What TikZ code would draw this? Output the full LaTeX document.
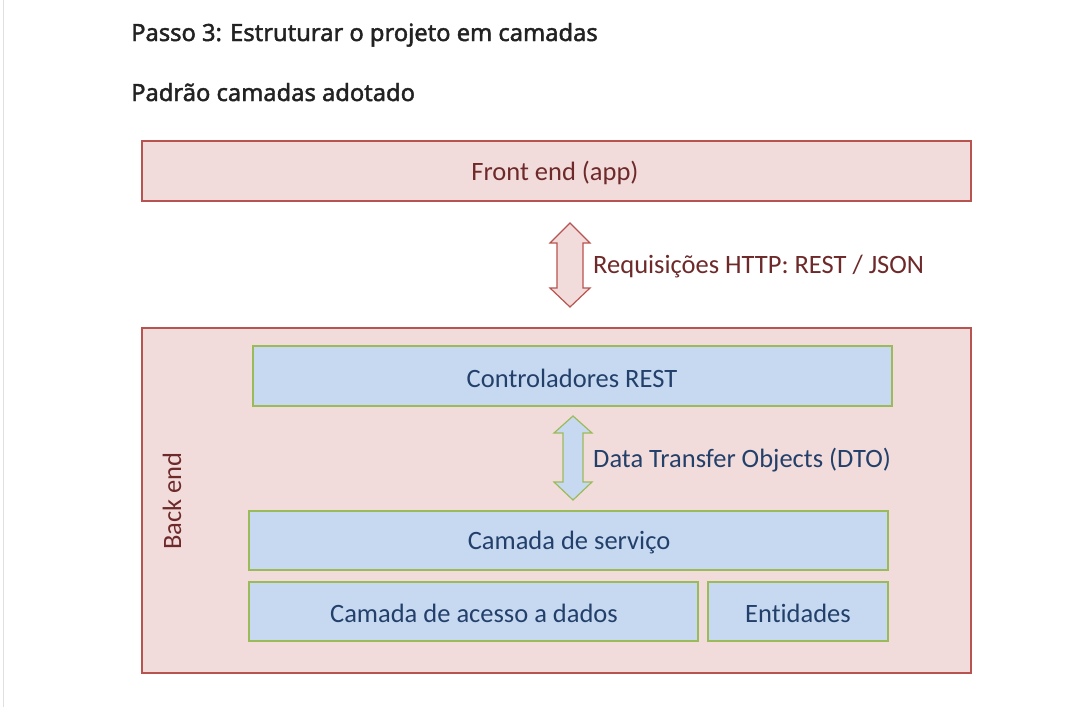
\documentclass[tikz,border=0pt]{standalone}
\usepackage{fontspec}
\setmainfont{Carlito}[Ligatures={NoCommon,NoRequired,NoContextual}]
\newfontfamily\titlefont{Noto Sans}[BoldFont={Noto Sans},BoldFeatures={FakeBold=1.8}]
\definecolor{pinkfill}{HTML}{F2DCDB}
\definecolor{pinkdraw}{HTML}{B85450}
\definecolor{bluefill}{HTML}{C6D9F1}
\definecolor{greendraw}{HTML}{9BBB59}
\definecolor{redtext}{HTML}{6E2A2A}
\definecolor{bluetext}{HTML}{23406B}
\definecolor{titletext}{HTML}{222222}
\begin{document}
\begin{tikzpicture}[x=1pt,y=-1pt,
  pinkbox/.style={draw=pinkdraw,fill=pinkfill,line width=1.2pt},
  bluebox/.style={draw=greendraw,fill=bluefill,line width=1.2pt},
  redlabel/.style={text=redtext,font=\fontsize{26.5}{30}\selectfont},
  bluelabel/.style={text=bluetext,font=\fontsize{26.5}{30}\selectfont},
  titlelabel/.style={text=titletext,font=\titlefont\bfseries\fontsize{23.7}{27}\selectfont,anchor=base west,inner sep=0pt},
  pinkarrow/.style={draw=pinkdraw,fill=pinkfill,line width=1.2pt,line join=miter},
  bluearrow/.style={draw=greendraw,fill=bluefill,line width=1.2pt,line join=miter}]
\useasboundingbox (0,0) rectangle (1092,707);
\fill[white] (0,0) rectangle (1092,707);
\draw[black!12,line width=1pt] (3,0) -- (3,707);
% titles
\node[titlelabel] (t1) at (131,41) {Passo 3: Estruturar o projeto em camadas};
\node[titlelabel] (t2) at (131,101) {Padrão camadas adotado};
% front end
\draw[pinkbox] (142,141) rectangle (971,201);
\node[redlabel] (front) at (555,173) {Front end (app)};
% back end
\draw[pinkbox] (142,328) rectangle (971,673);
\node[redlabel,rotate=90] (back) at (172,501) {Back end};
% blue boxes
\draw[bluebox] (253,346) rectangle (892,406);
\node[bluelabel] (ctrl) at (572,378) {Controladores REST};
\draw[bluebox] (249,511) rectangle (888,570);
\node[bluelabel] (serv) at (569,543) {Camada de serviço};
\draw[bluebox] (249,582) rectangle (698,641);
\node[bluelabel] (dados) at (474,613) {Camada de acesso a dados};
\draw[bluebox] (708,582) rectangle (888,641);
\node[bluelabel] (ent) at (798,613) {Entidades};
% arrow 1
\draw[pinkarrow] (570,223) -- (590,243) -- (583,243) -- (583,288) -- (590,288) -- (570,307)
  -- (550,288) -- (557,288) -- (557,243) -- (550,243) -- cycle;
\node[redlabel,anchor=west,inner sep=0pt] (req) at (593,267) {Requisições HTTP: REST / JSON};
% arrow 2
\draw[bluearrow] (573,416) -- (592,433) -- (583,433) -- (583,482) -- (592,482) -- (573,500)
  -- (554,482) -- (563,482) -- (563,433) -- (554,433) -- cycle;
\node[bluelabel,anchor=west,inner sep=0pt] (dto) at (593,460) {Data Transfer Objects (DTO)};
\end{tikzpicture}
\end{document}
